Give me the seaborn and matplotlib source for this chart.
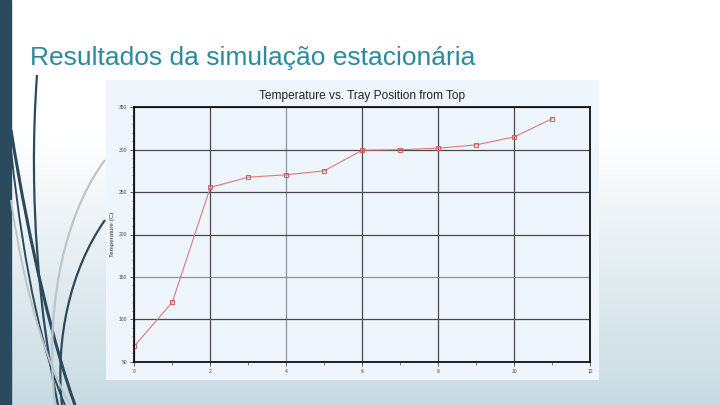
import numpy as np
import pandas as pd
import matplotlib
matplotlib.use("Agg")
import matplotlib.pyplot as plt
import seaborn as sns
from matplotlib.path import Path
from matplotlib.patches import PathPatch
from matplotlib.colors import LinearSegmentedColormap

# ---- data ----
tray_position = [0, 1, 2, 3, 4, 5, 6, 7, 8, 9, 10, 11]
temperature = [68.4, 120.2, 255.5, 267.6, 270.4, 275.1, 299.4, 300.0, 301.8, 305.7, 315.1, 336.7]
x_ticks = [0, 2, 4, 6, 8, 10, 12]
y_ticks = [50, 100, 150, 200, 250, 300, 350]
slide_title = "Resultados da simulação estacionária"
chart_title = "Temperature vs. Tray Position from Top"
y_label = "Temperature (C)"

df = pd.DataFrame({"tray": tray_position, "temp": temperature})

sns.set_theme(style="white")
plt.rcParams['font.family'] = ['Liberation Sans', 'DejaVu Sans']

W, H = 720, 405
fig = plt.figure(figsize=(7.2, 4.05), dpi=100)

# slide background gradient
bg = fig.add_axes([0, 0, 1, 1], zorder=-10)
grad = np.linspace(0, 1, 256).reshape(-1, 1)
cmap = LinearSegmentedColormap.from_list("bg", ["#ffffff", "#ffffff", "#e4edf1", "#c8dbe2"])
bg.imshow(grad, aspect="auto", cmap=cmap, extent=[0, W, H, 0])
bg.set_xlim(0, W); bg.set_ylim(H, 0); bg.axis("off")
# left dark bar
bg.add_patch(plt.Rectangle((0, 0), 11, H, color="#2c4a5e"))
# decorative curves
def curve(pts, color, lw):
    codes = [Path.MOVETO] + [Path.CURVE4] * (len(pts) - 1)
    bg.add_patch(PathPatch(Path(pts, codes), fill=False, edgecolor=color, lw=lw))
curve([(37, 75), (28, 200), (40, 320), (58, 405)], "#2c4a5e", 1.6)
curve([(11, 130), (30, 250), (55, 350), (75, 405)], "#2c4a5e", 2.2)
curve([(11, 150), (25, 280), (45, 360), (65, 405)], "#2c4a5e", 1.4)
curve([(105, 220), (70, 270), (55, 340), (62, 405)], "#2c4a5e", 1.6)
curve([(105, 160), (60, 220), (45, 320), (55, 405)], "#b9c6cc", 1.6)
curve([(11, 200), (25, 300), (50, 370), (70, 405)], "#b9c6cc", 1.4)

bg.text(30, 58, slide_title, fontsize=19, color="#2b8a9c", va="center", ha="left")

# chart panel
panel = fig.add_axes([106 / W, 1 - 380 / H, (599 - 106) / W, 300 / H], zorder=0)
panel.set_facecolor("#eef5fc")
panel.set_xticks([]); panel.set_yticks([])
for s in panel.spines.values():
    s.set_visible(False)

ax = fig.add_axes([134.3 / W, 1 - 361.7 / H, (590.3 - 134.3) / W, (361.7 - 107.3) / H], zorder=1)
ax.set_facecolor("#eef5fc")
sns.lineplot(data=df, x="tray", y="temp", ax=ax, color="#d97a7a", lw=0.8,
             marker="s", markersize=2.8, markerfacecolor="none",
             markeredgecolor="#cc5a5a", markeredgewidth=0.7)
ax.set_xlim(0, 12); ax.set_ylim(50, 350)
ax.set_xticks(x_ticks); ax.set_yticks(y_ticks)
ax.set_xticks(range(0, 13), minor=True)
ax.set_yticks(range(50, 351, 10), minor=True)
ax.grid(True, which="major", color="#4a4a4a", lw=0.9)
# lighter grid lines at x=4 and y=150 as in the reference
ax.get_xgridlines()[2].set_color("#8c949c")
ax.get_ygridlines()[2].set_color("#8c949c")
ax.tick_params(which="major", labelsize=3.6, colors="#444444", length=3, width=0.6, direction="out", pad=2)
ax.tick_params(which="minor", length=1.8, width=0.5, color="#444444")
ax.tick_params(axis="x", which="both", bottom=True)
ax.tick_params(axis="y", which="both", left=True)
for s in ax.spines.values():
    s.set_color("#111111"); s.set_linewidth(1.3)
ax.set_xlabel("")
ax.set_ylabel(y_label, fontsize=4.5, color="#333333", labelpad=3)
ax.set_title(chart_title, fontsize=8.6, color="#222222", pad=6)

fig.savefig("out.png", dpi=100)
